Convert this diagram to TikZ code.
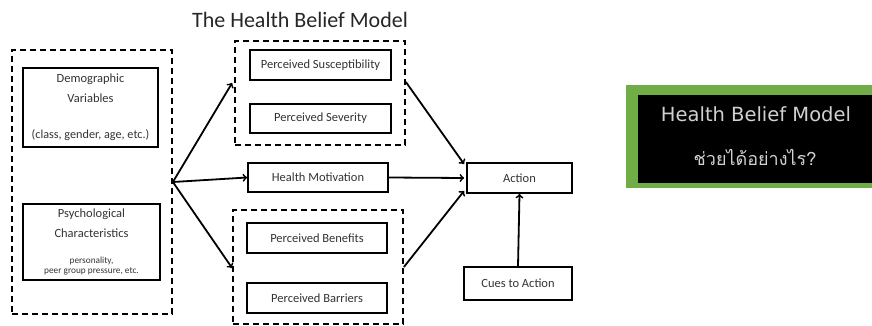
\documentclass[tikz,border=0pt]{standalone}
\usepackage{fontspec}
\setmainfont{Carlito}
\newfontfamily\thaifont[Script=Thai]{Loma}
\newfontfamily\boxfont{DejaVu Sans}
\usetikzlibrary{arrows,positioning,calc}
\definecolor{bannergreen}{RGB}{112,173,71}

\tikzset{
  factor/.style={draw, line width=1.8pt, inner sep=0pt, align=center, font=\fontsize{12.5}{20}\selectfont, text=black!80},
  group/.style={draw, line width=1.8pt, dash pattern=on 6pt off 4pt, inner sep=0pt},
}

\begin{document}
\begin{tikzpicture}[->, >=to, x=1pt, y=-1pt, line width=1.8pt]
\useasboundingbox (0,0) rectangle (872,326);
\node[font=\fontsize{22}{24}\selectfont, text=black!85] (title) at (300,20) {The Health Belief Model};
% left group
\node[group, minimum width=160pt, minimum height=264pt] (mods) at (92,182) {};
\node[factor, minimum width=135pt, minimum height=79pt] (demo) at (90.5,107.5) {Demographic\\Variables\\[16pt]{\fontsize{12.2}{13}\selectfont (class, gender, age, etc.)}};
\node[factor, minimum width=137pt, minimum height=76pt] (psy) at (91.5,242) {Psychological\\Characteristics\\[6pt]{\fontsize{9.3}{10}\selectfont personality,}\\[-10pt]{\fontsize{9.3}{10}\selectfont peer group pressure, etc.}};
% threat group
\node[group, minimum width=170pt, minimum height=104pt] (threat) at (320,93) {};
\node[factor, minimum width=141pt, minimum height=30pt] (susc) at (320.5,65) {Perceived Susceptibility};
\node[factor, minimum width=141pt, minimum height=29pt] (sev) at (320.5,118.5) {Perceived Severity};
\node[factor, minimum width=140pt, minimum height=29pt] (motiv) at (318,177.5) {Health Motivation};
% expectation group
\node[group, minimum width=170pt, minimum height=114pt] (expect) at (318,267) {};
\node[factor, minimum width=140pt, minimum height=30pt] (benef) at (317,238) {Perceived Benefits};
\node[factor, minimum width=140pt, minimum height=30pt] (barr) at (317,298) {Perceived Barriers};
% outcome
\node[factor, minimum width=105pt, minimum height=30pt] (action) at (519.5,178) {Action};
\node[factor, minimum width=108pt, minimum height=33pt] (cues) at (518,283.5) {Cues to Action};

\draw (mods.east) -- ($(threat.west)+(-2,-10)$);
\draw (mods.east) -- (motiv.west);
\draw (mods.east) -- ($(expect.west)+(0,1)$);
\draw ($(threat.east)+(0,-11)$) -- ($(action.north west)+(-2,2)$);
\draw (motiv.east) -- ($(action.west)+(-2,0)$);
\draw (expect.east) -- ($(action.south west)+(-2,-3)$);
\draw (cues.north) -- (action.south);

% banner
\fill[bannergreen] (626,85) rectangle (872,188);
\node[fill=black, draw=none, inner sep=0pt, minimum width=235pt, minimum height=88pt, anchor=north west] (banner) at (637,94) {};
\node[text=black!18, font=\boxfont\fontsize{19.5}{21}\selectfont] (bname) at (756,114) {Health Belief Model};
\node[text=black!18, font=\thaifont\fontsize{18}{20}\selectfont] (bq) at (755,157) {ช่วยได้อย่างไร?};
\end{tikzpicture}
\end{document}
